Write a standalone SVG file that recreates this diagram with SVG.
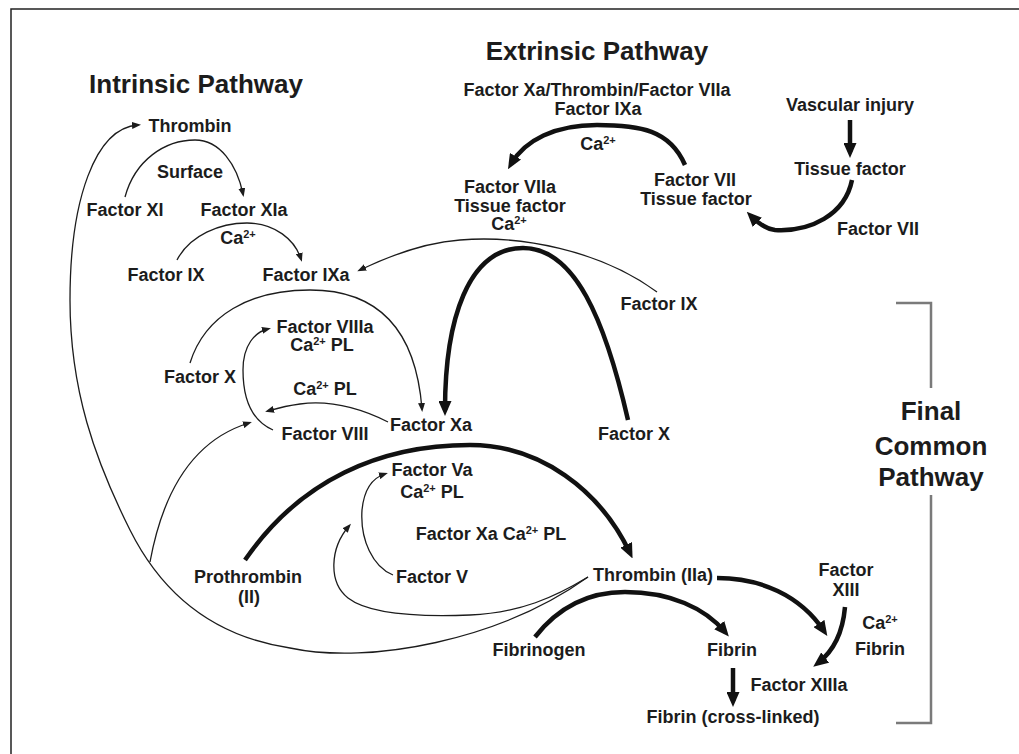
<svg xmlns="http://www.w3.org/2000/svg" width="1019" height="754" viewBox="0 0 1019 754">
<style>
text{font-family:"Liberation Sans",Arial,sans-serif;font-weight:bold;fill:#1c1c1c;text-anchor:middle;font-size:18px}
.title{font-size:26px}
.sup{font-size:11px}
.thin{fill:none;stroke:#1c1c1c;stroke-width:1.3;marker-end:url(#ah)}
.thick{fill:none;stroke:#111;stroke-width:4.5;marker-end:url(#AH)}
.plain{fill:none;stroke:#1c1c1c;stroke-width:1.3}
.bracket{fill:none;stroke:#7a7a7a;stroke-width:2.5}
</style>
<defs>
<marker id="ah" markerUnits="userSpaceOnUse" markerWidth="9" markerHeight="7" refX="6" refY="3.5" orient="auto"><path d="M0,0 L9,3.5 L0,7 z" fill="#1c1c1c"/></marker>
<marker id="AH" markerUnits="userSpaceOnUse" markerWidth="15" markerHeight="13" refX="9" refY="6.5" orient="auto"><path d="M0,0 L15,6.5 L0,13 z" fill="#111"/></marker>
</defs>
<rect x="0" y="0" width="1019" height="754" fill="#fff"/>
<rect x="11" y="9" width="1020" height="760" fill="none" stroke="#222" stroke-width="1.5"/>

<g id="connectors">
<path class="thin" d="M588,577 C500,640 370,665 290,648 C210,636 160,590 130,530 C95,460 70,390 70,300 C70,200 95,128 138,125"/>
<path class="thin" d="M588,577 C555,597 520,613 470,615 C420,617 370,615 348,598 C328,582 330,548 349,526"/>
<path class="thin" d="M150,562 C165,480 200,438 249,423"/>
<path class="thin" d="M125,197 C135,160 165,140 195,140 C220,140 237,165 243,194"/>
<path class="thin" d="M177,260 C190,235 220,223 247,223 C275,223 295,240 301,259"/>
<path class="thin" d="M657,292 C600,250 520,235 460,240 C420,243 385,258 360,270"/>
<path class="thin" d="M190,363 C205,315 250,290 310,290 C370,290 415,320 422,409"/>
<path class="thin" d="M273,430 C250,420 243,395 243,370 C243,345 255,332 268,329"/>
<path class="thin" d="M388,422 C360,408 330,400 300,404 C285,406 275,409 268,411"/>
<path class="thin" d="M393,575 C373,567 360,540 362,510 C364,490 372,478 385,474"/>
<path class="thick" d="M628,420 C605,320 575,248 523,248 C468,248 445,320 445,410"/>
<path class="thick" d="M685,165 C670,130 640,125 597,125 C555,125 525,140 511,164"/>
<path class="thick" d="M850,120 L850,152"/>
<path class="thick" d="M852,180 C845,215 810,232 775,230 C765,229 757,222 751,216"/>
<path class="thick" d="M245,560 C300,480 380,445 470,445 C540,445 600,490 630,553"/>
<path class="thick" d="M535,637 C560,605 590,592 625,592 C670,592 705,608 725,632"/>
<path class="thick" d="M717,578 C760,578 800,595 824,631"/>
<path class="thick" d="M845,607 C843,630 835,650 818,663"/>
<path class="thick" d="M733,668 L733,701"/>
<path class="bracket" d="M896,303 H931 V388"/>
<path class="bracket" d="M931,495 V723 H896"/>
</g>

<g id="intrinsic-title"><text class="title" x="196" y="93">Intrinsic Pathway</text></g>
<g id="extrinsic-title"><text class="title" x="597" y="60">Extrinsic Pathway</text></g>
<g id="final-title"><text class="title" x="931" y="420">Final</text><text class="title" x="931" y="455">Common</text><text class="title" x="931" y="486">Pathway</text></g>

<g id="thrombin-top"><text x="190" y="132">Thrombin</text></g>
<g id="surface"><text x="190" y="178">Surface</text></g>
<g id="factor-xi"><text x="125" y="216">Factor XI</text></g>
<g id="factor-xia"><text x="244" y="216">Factor XIa</text></g>
<g id="ca-1"><text x="238" y="244">Ca<tspan class="sup" baseline-shift="super">2+</tspan></text></g>
<g id="factor-ix-left"><text x="166" y="281">Factor IX</text></g>
<g id="factor-ixa"><text x="306" y="281">Factor IXa</text></g>

<g id="ext-enzymes"><text x="597" y="96">Factor Xa/Thrombin/Factor VIIa</text><text x="598" y="115">Factor IXa</text></g>
<g id="ca-ext"><text x="598" y="150">Ca<tspan class="sup" baseline-shift="super">2+</tspan></text></g>
<g id="factor-viia"><text x="510" y="193">Factor VIIa</text><text x="510" y="212">Tissue factor</text><text x="509" y="230">Ca<tspan class="sup" baseline-shift="super">2+</tspan></text></g>
<g id="factor-vii-tf"><text x="695" y="186">Factor VII</text><text x="696" y="205">Tissue factor</text></g>
<g id="vascular-injury"><text x="850" y="111">Vascular injury</text></g>
<g id="tissue-factor"><text x="850" y="175">Tissue factor</text></g>
<g id="factor-vii"><text x="878" y="235">Factor VII</text></g>

<g id="factor-ix-right"><text x="659" y="310">Factor IX</text></g>
<g id="factor-viiia"><text x="325" y="333">Factor VIIIa</text><text x="322" y="351">Ca<tspan class="sup" baseline-shift="super">2+</tspan> PL</text></g>
<g id="factor-x-left"><text x="200" y="383">Factor X</text></g>
<g id="ca-pl-mid"><text x="325" y="395">Ca<tspan class="sup" baseline-shift="super">2+</tspan> PL</text></g>
<g id="factor-viii"><text x="325" y="440">Factor VIII</text></g>
<g id="factor-xa"><text x="431" y="431">Factor Xa</text></g>
<g id="factor-x-right"><text x="634" y="440">Factor X</text></g>

<g id="factor-va"><text x="432" y="476">Factor Va</text><text x="432" y="498">Ca<tspan class="sup" baseline-shift="super">2+</tspan> PL</text></g>
<g id="prothrombinase"><text x="491" y="540">Factor Xa Ca<tspan class="sup" baseline-shift="super">2+</tspan> PL</text></g>
<g id="factor-v"><text x="432" y="583">Factor V</text></g>
<g id="prothrombin"><text x="248" y="583">Prothrombin</text><text x="249" y="603">(II)</text></g>
<g id="thrombin-iia"><text x="653" y="581">Thrombin (IIa)</text></g>
<g id="factor-xiii"><text x="846" y="576">Factor</text><text x="846" y="596">XIII</text></g>
<g id="ca-fibrin"><text x="880" y="629">Ca<tspan class="sup" baseline-shift="super">2+</tspan></text><text x="880" y="655">Fibrin</text></g>
<g id="fibrinogen"><text x="539" y="656">Fibrinogen</text></g>
<g id="fibrin"><text x="732" y="656">Fibrin</text></g>
<g id="factor-xiiia"><text x="799" y="691">Factor XIIIa</text></g>
<g id="fibrin-crosslinked"><text x="733" y="723">Fibrin (cross-linked)</text></g>
</svg>
